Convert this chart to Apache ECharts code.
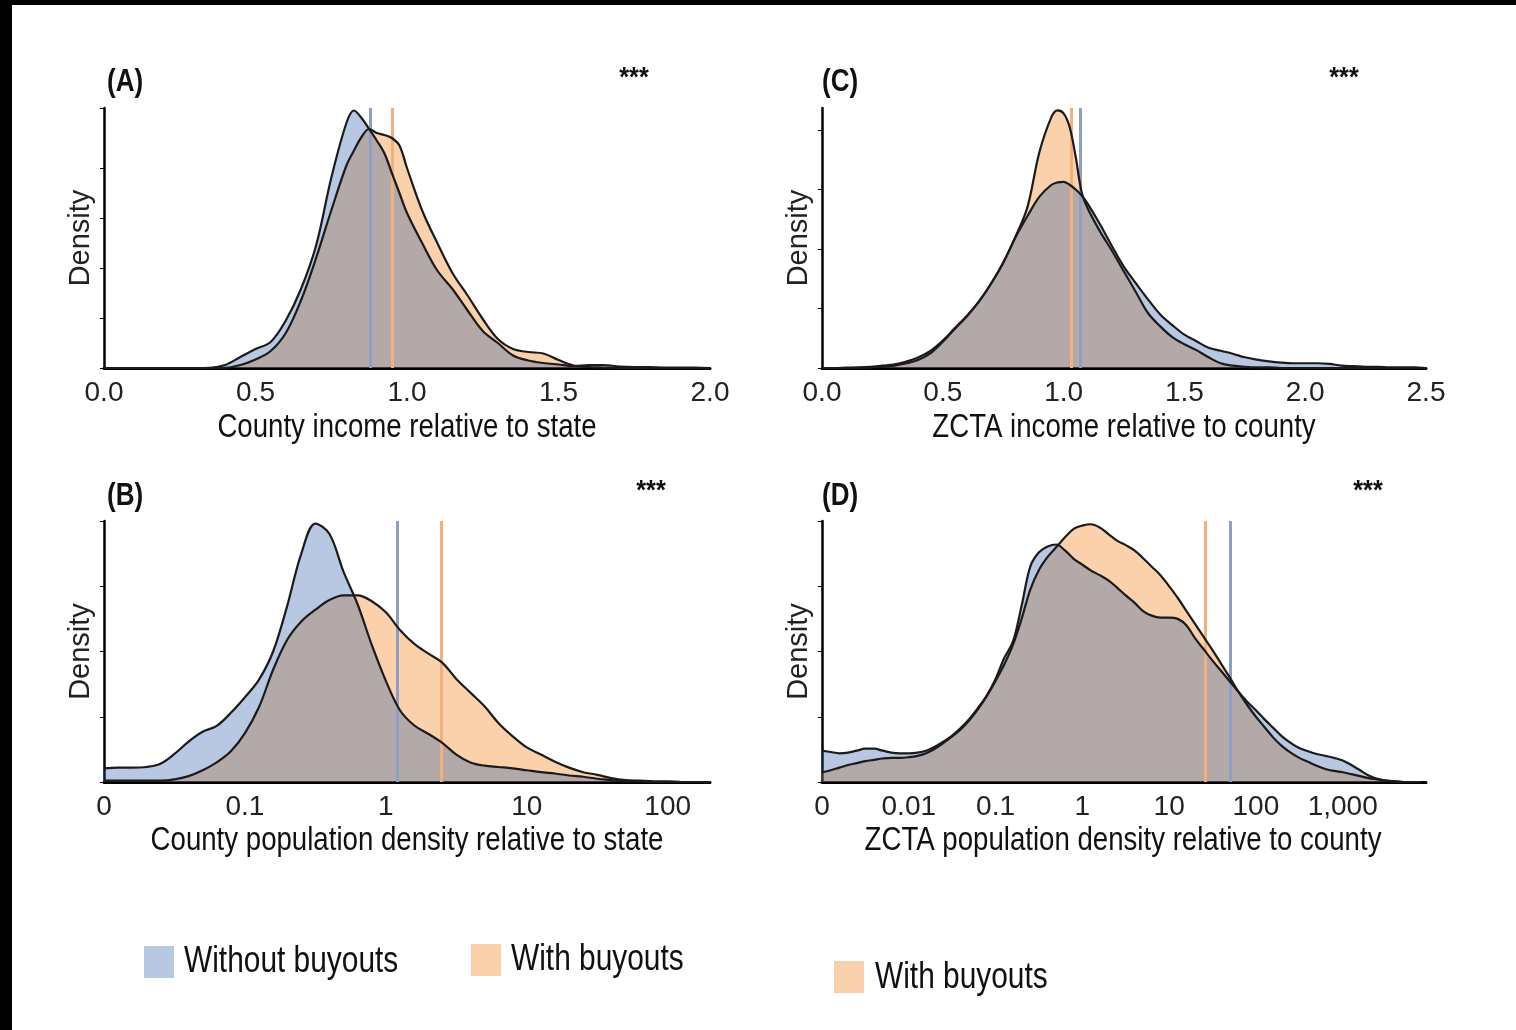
<!DOCTYPE html>
<html><head><meta charset="utf-8">
<script src="https://cdn.jsdelivr.net/npm/echarts@6/dist/echarts.min.js"></script>
<style>html,body{margin:0;padding:0;background:#fff}#c{width:1516px;height:1030px}</style>
</head><body><div id="c"></div><script>
// ---------- Panel A: County income relative to state ----------
const aX = [0,0.05,0.1,0.15,0.2,0.25,0.3,0.35,0.4,0.45,0.5,0.55,0.6,0.65,0.7,0.75,0.8,0.825,0.85,0.875,0.9,0.925,0.95,0.975,1.0,1.05,1.1,1.15,1.2,1.25,1.3,1.35,1.4,1.45,1.5,1.55,1.6,1.65,1.7,1.75,1.8,1.85,1.9,1.95,2.0];
const aWithout = [0,0,0,0,0,0,0,0.005,0.06,0.22,0.38,0.52,0.95,1.58,2.45,3.8,4.9,5.15,5.0,4.78,4.55,4.3,3.9,3.5,3.1,2.5,1.95,1.58,1.15,0.74,0.5,0.25,0.15,0.1,0.07,0.04,0.06,0.06,0.03,0.02,0.02,0.01,0.01,0.01,0];
const aWith    = [0,0,0,0,0,0,0,0,0.005,0.06,0.17,0.34,0.7,1.35,2.2,3.15,4.05,4.35,4.62,4.78,4.7,4.66,4.6,4.45,4.0,3.15,2.5,1.9,1.45,0.98,0.58,0.38,0.32,0.29,0.16,0.05,0.02,0.01,0,0,0,0,0,0,0];
const aMeans = [0.878, 0.95]; // without, with

// ---------- Panel C: ZCTA income relative to county ----------
const cX = [0,0.05,0.1,0.15,0.2,0.25,0.3,0.35,0.4,0.45,0.5,0.55,0.6,0.65,0.7,0.75,0.8,0.85,0.9,0.95,0.975,1.0,1.025,1.05,1.075,1.1,1.15,1.2,1.25,1.3,1.35,1.4,1.45,1.5,1.55,1.6,1.65,1.7,1.75,1.8,1.85,1.9,1.95,2.0,2.05,2.1,2.15,2.2,2.25,2.3,2.35,2.4,2.45,2.5];
const cWithout = [0,0,0.005,0.01,0.02,0.04,0.06,0.11,0.18,0.29,0.46,0.67,0.88,1.12,1.42,1.77,2.19,2.55,2.88,3.08,3.12,3.13,3.08,3.0,2.9,2.76,2.42,2.05,1.7,1.42,1.15,0.9,0.72,0.56,0.45,0.34,0.29,0.24,0.18,0.14,0.11,0.09,0.08,0.08,0.08,0.07,0.04,0.03,0.02,0.02,0.01,0.01,0.01,0];
const cWith    = [0,0,0,0,0.01,0.02,0.04,0.08,0.14,0.25,0.44,0.66,0.87,1.12,1.42,1.77,2.2,2.7,3.63,4.22,4.33,4.28,4.05,3.55,2.95,2.68,2.3,1.97,1.62,1.27,0.92,0.7,0.52,0.4,0.3,0.18,0.08,0.04,0.02,0.01,0.01,0,0,0,0,0,0,0,0,0,0,0,0,0];
const cMeans = [1.066, 1.035];

// ---------- Panel B: County population density relative to state (log10 position) ----------
const bX = [-2,-1.9,-1.8,-1.7,-1.6,-1.5,-1.4,-1.3,-1.2,-1.1,-1,-0.9,-0.8,-0.7,-0.6,-0.5,-0.4,-0.3,-0.2,-0.1,0,0.1,0.2,0.3,0.4,0.5,0.6,0.7,0.8,0.9,1,1.1,1.2,1.3,1.4,1.5,1.6,1.7,1.8,1.9,2,2.1,2.2,2.3];
const bWithout = [0.21,0.22,0.22,0.23,0.28,0.43,0.62,0.77,0.86,1.06,1.3,1.57,2.0,2.7,3.5,3.96,3.8,3.22,2.72,2.1,1.55,1.1,0.87,0.74,0.6,0.42,0.3,0.25,0.23,0.21,0.18,0.15,0.13,0.1,0.08,0.05,0.03,0.01,0.01,0,0,0,0,0];
const bWith    = [0.02,0.02,0.02,0.02,0.02,0.04,0.09,0.18,0.3,0.47,0.75,1.15,1.72,2.18,2.46,2.64,2.79,2.86,2.86,2.77,2.6,2.33,2.12,1.97,1.83,1.58,1.37,1.16,0.9,0.7,0.53,0.42,0.31,0.22,0.15,0.11,0.06,0.03,0.02,0.01,0.01,0,0,0];
const bMeans = [0.08, 0.39];
const bTickPos = [-2,-1,0,1,2];
const bTickLabels = ['0','0.1','1','10','100'];

// ---------- Panel D: ZCTA population density relative to county (log10 position) ----------
const dX = [-3,-2.9,-2.8,-2.7,-2.6,-2.5,-2.4,-2.3,-2.2,-2.1,-2,-1.9,-1.8,-1.7,-1.6,-1.5,-1.4,-1.3,-1.2,-1.1,-1,-0.9,-0.8,-0.7,-0.6,-0.5,-0.4,-0.3,-0.2,-0.1,0,0.1,0.2,0.3,0.4,0.5,0.6,0.7,0.8,0.9,1,1.1,1.2,1.3,1.4,1.5,1.6,1.7,1.8,1.9,2,2.1,2.2,2.3,2.4,2.5,2.6,2.7,2.8,2.9,3,3.1,3.2,3.3,3.4,3.5,3.6,3.7,3.8,3.9];
const dWithout = [0.48,0.46,0.44,0.45,0.48,0.51,0.51,0.48,0.45,0.44,0.44,0.45,0.48,0.54,0.62,0.71,0.83,0.97,1.14,1.33,1.58,1.9,2.15,2.7,3.3,3.52,3.61,3.64,3.55,3.42,3.33,3.24,3.17,3.09,2.98,2.86,2.75,2.62,2.55,2.52,2.52,2.5,2.4,2.2,2.03,1.86,1.7,1.54,1.38,1.23,1.1,0.96,0.83,0.7,0.6,0.52,0.47,0.43,0.4,0.37,0.33,0.26,0.18,0.1,0.05,0.02,0.01,0,0,0];
const dWith    = [0.15,0.18,0.22,0.26,0.29,0.32,0.34,0.36,0.37,0.37,0.38,0.4,0.44,0.51,0.6,0.7,0.81,0.95,1.12,1.32,1.55,1.8,2.1,2.5,2.95,3.25,3.45,3.6,3.75,3.88,3.93,3.95,3.9,3.8,3.7,3.63,3.55,3.43,3.3,3.17,3.0,2.82,2.62,2.42,2.22,2.02,1.81,1.6,1.38,1.18,1.0,0.84,0.68,0.55,0.45,0.37,0.31,0.25,0.2,0.17,0.15,0.12,0.09,0.06,0.04,0.02,0.01,0,0,0];
const dMeans = [1.71, 1.42];
const dTickPos = [-3,-2,-1,0,1,2,3];
const dTickLabels = ['0','0.01','0.1','1','10','100','1,000'];

const panelLetters = ['(A)','(C)','(B)','(D)'];
const xNames = ['County income relative to state','ZCTA income relative to county','County population density relative to state','ZCTA population density relative to county'];
const legendNames = ['Without buyouts','With buyouts','With buyouts'];

const FONT = "'Liberation Sans',Arial,sans-serif";
const BLUE_FILL = 'rgba(40,88,168,0.33)';
const ORANGE_FILL = 'rgba(240,115,0,0.33)';
const BLUE_LINE = '#8e9fc6';
const ORANGE_LINE = '#f2b07c';
const OUT = '#1b1b1b';

const panels = [
  {x:aX, w:aWithout, o:aWith, m:aMeans, grid:{left:104,top:108,width:606,height:260}, xmin:0,xmax:2,xint:0.5, ymax:5.2, yticks:[0,1,2,3,4,5.2], fmt:v=>v.toFixed(1)},
  {x:cX, w:cWithout, o:cWith, m:cMeans, grid:{left:822,top:108,width:604,height:260}, xmin:0,xmax:2.5,xint:0.5, ymax:4.37, yticks:[0,1,2,3,4], fmt:v=>v.toFixed(1)},
  {x:bX, w:bWithout, o:bWith, m:bMeans, grid:{left:104,top:521,width:606,height:261}, xmin:-2,xmax:2.3,xint:1, ymax:4, yticks:[0,1,2,3,4], fmt:v=>{const i=bTickPos.indexOf(Math.round(v*1000)/1000);return i<0?'':bTickLabels[i];}},
  {x:dX, w:dWithout, o:dWith, m:dMeans, grid:{left:822,top:521,width:604,height:261}, xmin:-3,xmax:3.96,xint:1, ymax:4, yticks:[0,1,2,3,4], fmt:v=>{const i=dTickPos.indexOf(Math.round(v*1000)/1000);return i<0?'':dTickLabels[i];}}
];

const grids=[], xAxes=[], yAxes=[], series=[];
panels.forEach((p,i)=>{
  grids.push(Object.assign({containLabel:false}, p.grid));
  xAxes.push({type:'value', gridIndex:i, min:p.xmin, max:p.xmax, interval:p.xint,
    axisLine:{show:true, onZero:false, lineStyle:{color:'#000', width:3}},
    axisTick:{show:false}, splitLine:{show:false},
    axisLabel:{fontSize:28, fontFamily:FONT, color:'#222', margin:11, formatter:p.fmt, showMaxLabel:true}
  });
  yAxes.push({type:'value', gridIndex:i, min:0, max:p.ymax,
    name:'Density', nameLocation:'middle', nameGap:9, nameRotate:90,
    nameTextStyle:{fontSize:29, fontFamily:FONT, color:'#222'},
    axisLine:{show:true, onZero:false, lineStyle:{color:'#000', width:2.5}},
    axisTick:{show:true, length:4, inside:false, customValues:p.yticks, lineStyle:{color:'#000', width:1}},
    axisLabel:{show:false}, splitLine:{show:false}
  });
  const pw = p.x.map((v,k)=>[v,p.w[k]]);
  const po = p.x.map((v,k)=>[v,p.o[k]]);
  series.push({type:'line', xAxisIndex:i, yAxisIndex:i, data:po, smooth:0.35, symbol:'none', silent:true,
    lineStyle:{width:0, opacity:0}, areaStyle:{color:ORANGE_FILL, opacity:1}, z:2});
  series.push({type:'line', xAxisIndex:i, yAxisIndex:i, data:pw, smooth:0.35, symbol:'none', silent:true,
    lineStyle:{width:0, opacity:0}, areaStyle:{color:BLUE_FILL, opacity:1}, z:2,
    markLine:{silent:true, symbol:['none','none'], label:{show:false}, z:3,
      data:[{xAxis:p.m[0], lineStyle:{color:BLUE_LINE, width:3, type:'solid'}},
            {xAxis:p.m[1], lineStyle:{color:ORANGE_LINE, width:3, type:'solid'}}]}});
  series.push({type:'line', xAxisIndex:i, yAxisIndex:i, data:po, smooth:0.35, symbol:'none', silent:true,
    lineStyle:{color:OUT, width:2.2}, z:4});
  series.push({type:'line', xAxisIndex:i, yAxisIndex:i, data:pw, smooth:0.35, symbol:'none', silent:true,
    lineStyle:{color:OUT, width:2.2}, z:4});
});

const txt = (t,x,y,size,sx,align,bold)=>({type:'text', x:x, y:y, scaleX:sx, silent:true,
  style:{text:t, fontSize:size, fontFamily:FONT, fontWeight:bold?'bold':'normal', fill:'#111', align:align, verticalAlign:'middle'}});
const graphic = [
  {type:'rect', shape:{x:0,y:0,width:1516,height:5}, style:{fill:'#000'}, silent:true},
  {type:'rect', shape:{x:0,y:0,width:12,height:1030}, style:{fill:'#000'}, silent:true},
];
[[107,82],[822,82],[107,496],[822,496]].forEach((pp,i)=>graphic.push(txt(panelLetters[i], pp[0], pp[1], 31, 0.84, 'left', true)));
[[634,78],[1344,78],[651,491],[1368,491]].forEach(pp=>graphic.push(txt('***', pp[0], pp[1], 28, 0.9, 'center', true)));
[[407,428],[1124,428],[407,841],[1123,841]].forEach((pp,i)=>graphic.push(txt(xNames[i], pp[0], pp[1], 33, 0.837, 'center', false)));
graphic.push({type:'rect', shape:{x:144,y:946,width:30,height:32}, style:{fill:'#b8c8e2'}, silent:true});
graphic.push(txt(legendNames[0], 184, 962, 36, 0.83, 'left', false));
graphic.push({type:'rect', shape:{x:471,y:944,width:30,height:32}, style:{fill:'#fad0aa'}, silent:true});
graphic.push(txt(legendNames[1], 511, 960, 36, 0.83, 'left', false));
graphic.push({type:'rect', shape:{x:834,y:961,width:30,height:32}, style:{fill:'#f8d0ae'}, silent:true});
graphic.push(txt(legendNames[2], 875, 978, 36, 0.83, 'left', false));

const chart = echarts.init(document.getElementById('c'), null, {renderer:'canvas'});
chart.setOption({animation:false, backgroundColor:'#fff', grid:grids, xAxis:xAxes, yAxis:yAxes, series:series, graphic:graphic});
</script></body></html>
